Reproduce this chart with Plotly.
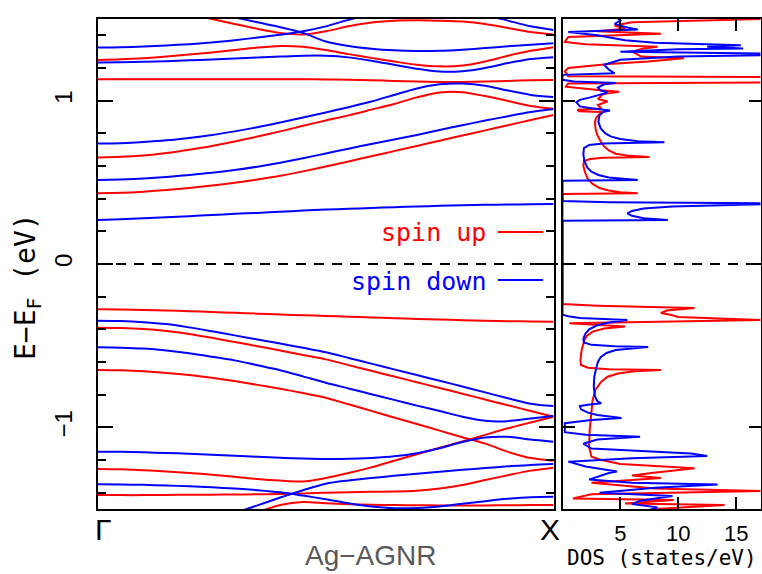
import plotly.graph_objects as go

# ---------------- band structure data (k from Gamma=0 to X=1) ----------------
K = [0, .05, .1, .15, .2, .25, .3, .35, .4, .45, .5, .55, .6, .65, .7, .75, .8, .85, .9, .95, 1.0]

# spin-up (red) bands
up_c1 = [.433, .436, .443, .453, .465, .480, .497, .517, .540, .567, .597, .628, .660, .691, .723, .755, .787, .818, .850, .881, .912]
up_c2 = [.652, .656, .665, .680, .700, .723, .750, .780, .812, .846, .879, .910, .945, .980, 1.020, 1.050, 1.052, 1.028, .998, .968, .950]
up_c3 = [1.131, 1.131, 1.131, 1.131, 1.131, 1.131, 1.131, 1.131, 1.131, 1.131, 1.130, 1.128, 1.125, 1.121, 1.117, 1.114, 1.114, 1.117, 1.121, 1.125, 1.127]
up_c4 = [1.249, 1.253, 1.260, 1.270, 1.282, 1.295, 1.310, 1.325, 1.335, 1.330, 1.310, 1.285, 1.262, 1.240, 1.220, 1.210, 1.215, 1.240, 1.275, 1.305, 1.327]
up_c5 = [1.60, 1.59, 1.575, 1.555, 1.53, 1.50, 1.47, 1.44, 1.415, 1.405, 1.425, 1.455, 1.478, 1.49, 1.492, 1.49, 1.485, 1.47, 1.445, 1.42, 1.405]
up_v1 = [-.277, -.278, -.281, -.285, -.289, -.294, -.299, -.304, -.309, -.314, -.318, -.323, -.327, -.332, -.336, -.340, -.344, -.347, -.350, -.352, -.353]
up_v2 = [-.390, -.392, -.398, -.410, -.428, -.452, -.478, -.503, -.530, -.557, -.584, -.619, -.654, -.689, -.724, -.759, -.794, -.830, -.865, -.900, -.935]
up_v3 = [-.649, -.651, -.657, -.667, -.680, -.697, -.717, -.740, -.764, -.790, -.819, -.859, -.899, -.940, -.980, -1.020, -1.061, -1.100, -1.150, -1.188, -1.205]
up_v4 = [-1.255, -1.257, -1.262, -1.270, -1.280, -1.290, -1.302, -1.316, -1.326, -1.332, -1.310, -1.280, -1.245, -1.205, -1.165, -1.125, -1.087, -1.046, -1.006, -.970, -.935]
up_v5 = [-1.415, -1.415, -1.415, -1.414, -1.413, -1.412, -1.411, -1.410, -1.408, -1.405, -1.400, -1.397, -1.395, -1.393, -1.388, -1.375, -1.353, -1.323, -1.293, -1.265, -1.247]
up_v6 = [-1.65, -1.65, -1.645, -1.635, -1.62, -1.60, -1.565, -1.52, -1.475, -1.457, -1.465, -1.471, -1.474, -1.476, -1.477, -1.478, -1.478, -1.478, -1.477, -1.476, -1.476]

# spin-down (blue) bands
dn_c1 = [.270, .274, .280, .286, .293, .300, .307, .313, .320, .327, .333, .338, .343, .348, .352, .356, .359, .362, .364, .366, .367]
dn_c2 = [.515, .518, .523, .532, .545, .558, .575, .596, .620, .647, .677, .706, .735, .762, .790, .820, .850, .878, .905, .930, .949]
dn_c3 = [.737, .740, .747, .757, .772, .790, .812, .837, .866, .897, .928, .960, .995, 1.035, 1.075, 1.100, 1.105, 1.092, 1.062, 1.035, 1.022]
dn_c4 = [1.233, 1.235, 1.238, 1.242, 1.247, 1.252, 1.258, 1.264, 1.270, 1.275, 1.275, 1.265, 1.245, 1.220, 1.195, 1.178, 1.180, 1.200, 1.230, 1.255, 1.266]
dn_c5 = [1.325, 1.327, 1.332, 1.338, 1.346, 1.356, 1.370, 1.387, 1.404, 1.425, 1.455, 1.495, 1.53, 1.55, 1.56, 1.56, 1.55, 1.525, 1.49, 1.455, 1.433]
dn_c6 = [1.62, 1.615, 1.60, 1.585, 1.565, 1.54, 1.51, 1.48, 1.45, 1.415, 1.362, 1.335, 1.318, 1.308, 1.304, 1.305, 1.312, 1.322, 1.333, 1.343, 1.351]
dn_v1 = [-.347, -.349, -.356, -.368, -.388, -.412, -.437, -.462, -.487, -.513, -.540, -.575, -.610, -.645, -.680, -.715, -.750, -.786, -.822, -.855, -.870]
dn_v2 = [-.510, -.512, -.518, -.530, -.547, -.568, -.590, -.620, -.650, -.688, -.727, -.762, -.797, -.832, -.867, -.900, -.935, -.960, -.962, -.946, -.930]
dn_v3 = [-1.149, -1.150, -1.153, -1.157, -1.162, -1.168, -1.174, -1.180, -1.186, -1.191, -1.194, -1.193, -1.187, -1.177, -1.158, -1.128, -1.090, -1.062, -1.058, -1.075, -1.088]
dn_v4 = [-1.349, -1.350, -1.352, -1.356, -1.361, -1.367, -1.375, -1.385, -1.398, -1.418, -1.440, -1.465, -1.485, -1.495, -1.494, -1.484, -1.468, -1.452, -1.438, -1.428, -1.425]
dn_v5 = [-1.62, -1.62, -1.615, -1.605, -1.59, -1.565, -1.525, -1.478, -1.43, -1.385, -1.345, -1.325, -1.310, -1.297, -1.284, -1.272, -1.260, -1.249, -1.239, -1.230, -1.225]

up_bands = [up_c1, up_c2, up_c3, up_c4, up_c5, up_v1, up_v2, up_v3, up_v4, up_v5, up_v6]
dn_bands = [dn_c1, dn_c2, dn_c3, dn_c4, dn_c5, dn_c6, dn_v1, dn_v2, dn_v3, dn_v4, dn_v5]

# ---------------- DOS data (states/eV), listed as (energy, DOS) pairs ----------------
dos_up_E = [-1.52, -1.50, -1.476, -1.466, -1.445, -1.435, -1.41, -1.39, -1.375, -1.34, -1.31, -1.295, -1.28, -1.25,
            -1.225, -1.20, -1.18, -1.12, -1.016, -0.91, -0.833, -0.77, -0.72, -0.69, -0.67, -0.657, -0.649, -0.645,
            -0.635, -0.618, -0.59, -0.527, -0.465, -0.44, -0.414, -0.395, -0.383, -0.363, -0.35, -0.343, -0.325,
            -0.312, -0.30, -0.285, -0.27, -0.255, -0.245,
            0.428, 0.433, 0.44, 0.45, 0.465, 0.49, 0.52, 0.56, 0.60, 0.63, 0.643, 0.65, 0.655, 0.662, 0.675, 0.695,
            0.72, 0.75, 0.79, 0.83, 0.87, 0.90, 0.92, 0.93, 0.935, 0.945, 0.952, 0.974, 0.995, 1.01, 1.04, 1.055,
            1.066, 1.085, 1.105, 1.112, 1.145, 1.15, 1.18, 1.20, 1.225, 1.24, 1.26, 1.27, 1.30, 1.32, 1.33, 1.345,
            1.36, 1.39, 1.41, 1.425, 1.44, 1.46, 1.48, 1.49, 1.50, 1.52]
dos_up_val = [6, 8, 14, 5.4, 9.6, 0.9, 2.5, 17.5, 8, 2.5, 8.5, 6, 7.7, 11.4,
              5, 3.35, 2.5, 2.3, 2.35, 2.5, 2.6, 2.85, 3.35, 3.9, 4.8, 6.2, 8.5, 4,
              2.2, 1.6, 1.55, 1.65, 1.9, 2.1, 2.6, 3.6, 5.4, 0.6, 10, 17.5, 10,
              9.4, 8.5, 9, 11.4, 3, 0,
              0, 6.5, 5.0, 4.0, 3.2, 2.6, 2.2, 1.95, 1.8, 1.85, 2.4, 3.5, 7.5, 5.8, 4.6, 4.0,
              3.6, 3.3, 3.0, 2.85, 2.8, 2.95, 3.2, 3.4, 1.4, 1.3, 3.35, 3.06, 3.9, 3.06, 3.5, 4.9,
              3.06, 0.3, 0.5, 17.5, 17.5, 0.5, 0.2, 0.5, 4, 7.4, 10.5, 6.8, 6, 7, 8.2, 2,
              0.2, 0.5, 8.5, 3, 5.4, 4.5, 6, 13, 17.5, 17.5]

dos_dn_E = [-1.52, -1.49, -1.47, -1.45, -1.42, -1.40, -1.37, -1.35, -1.34, -1.32, -1.28, -1.27, -1.24, -1.21,
            -1.19, -1.175, -1.16, -1.149, -1.13, -1.10, -1.075, -1.057, -1.045, -1.03, -0.975, -0.955, -0.943,
            -0.925, -0.91, -0.89, -0.87, -0.862, -0.853, -0.84, -0.81, -0.75, -0.69, -0.64, -0.60, -0.57, -0.545,
            -0.527, -0.515, -0.508, -0.503, -0.495, -0.48, -0.46, -0.43, -0.40, -0.375, -0.36, -0.35, -0.343,
            -0.33, -0.32, -0.31,
            0.265, 0.270, 0.28, 0.295, 0.31, 0.325, 0.34, 0.352, 0.36, 0.366, 0.372, 0.378, 0.385,
            0.51, 0.515, 0.522, 0.53, 0.545, 0.565, 0.59, 0.63, 0.67, 0.71, 0.728, 0.738, 0.745, 0.752, 0.765,
            0.78, 0.80, 0.83, 0.87, 0.91, 0.93, 0.94, 0.95, 0.965, 0.99, 1.005, 1.02, 1.035, 1.05, 1.062, 1.08,
            1.10, 1.108, 1.118, 1.128, 1.158, 1.168, 1.19, 1.22, 1.25, 1.27, 1.278, 1.288, 1.30, 1.315, 1.32,
            1.33, 1.34, 1.355, 1.37, 1.40, 1.42, 1.435, 1.45, 1.47, 1.49, 1.52]
dos_dn_val = [7, 8.2, 6, 6.7, 9.5, 3.2, 8, 13.4, 6, 2.3, 4, 4.7, 2, 0.5,
              6, 12.5, 11.1, 8, 2.5, 1.8, 3, 6.7, 2, 0.2, 0.2, 2.5, 5.1,
              3.0, 2.2, 1.6, 1.5, 2.2, 3.35, 3.0, 2.8, 2.7, 2.75, 2.9, 3.06, 3.3, 3.8,
              4.6, 6.2, 7.4, 4.5, 2.5, 1.85, 1.8, 1.95, 2.3, 3.0, 3.9, 4.8, 5.6,
              1.5, 0.5, 0,
              0, 9.1, 7.0, 6.0, 5.6, 6.0, 7.0, 9.5, 13, 17.5, 17.5, 4, 0,
              0, 6.5, 5.2, 4.0, 3.1, 2.5, 2.15, 1.9, 1.8, 1.85, 2.3, 3.5, 8.8, 6.5, 5.0,
              4.2, 3.7, 3.3, 3.1, 3.2, 3.5, 4.1, 2.8, 1.5, 1.2, 1.5, 2.4, 3.06, 3.9, 3.3, 3.06,
              3.6, 4.6, 1, 0, 0, 4.5, 4, 3.6, 5, 10, 17.5, 17.5, 5, 10, 15.6,
              12.5, 15.4, 8, 5.4, 3, 0.5, 6.5, 5.5, 4.5, 5, 4.5]

RED = "#ff0000"
BLUE = "#0000ff"

fig = go.Figure()
for b in up_bands:
    fig.add_trace(go.Scatter(x=K, y=b, mode="lines", line=dict(color=RED, width=2, shape="spline", smoothing=0.8),
                             xaxis="x", yaxis="y", showlegend=False, hoverinfo="skip"))
for b in dn_bands:
    fig.add_trace(go.Scatter(x=K, y=b, mode="lines", line=dict(color=BLUE, width=2, shape="spline", smoothing=0.8),
                             xaxis="x", yaxis="y", showlegend=False, hoverinfo="skip"))

fig.add_trace(go.Scatter(x=dos_up_val, y=dos_up_E, mode="lines", line=dict(color=RED, width=2),
                         xaxis="x2", yaxis="y2", showlegend=False, hoverinfo="skip"))
fig.add_trace(go.Scatter(x=dos_dn_val, y=dos_dn_E, mode="lines", line=dict(color=BLUE, width=2),
                         xaxis="x2", yaxis="y2", showlegend=False, hoverinfo="skip"))

W, H = 762, 574
def px(x):
    return x / W
def py(y):
    return 1 - y / H

x1_dom = [px(98), px(553.5)]
x2_dom = [px(562.5), px(760.5)]
y_dom = [py(509), py(19)]

fig.update_layout(
    width=W, height=H, margin=dict(l=0, r=0, t=0, b=0),
    paper_bgcolor="white", plot_bgcolor="white",
    font=dict(family="Liberation Sans", color="black"),
    xaxis=dict(domain=x1_dom, range=[0, 1], showgrid=False, zeroline=False, showline=True, linecolor="black",
               linewidth=2, mirror=True, showticklabels=False, ticks=""),
    yaxis=dict(domain=y_dom, range=[-1.5, 1.5], showgrid=False, zeroline=False, showline=True, linecolor="black",
               linewidth=2, mirror="ticks", ticks="inside", tickmode="linear", tick0=0, dtick=1, ticklen=15,
               tickwidth=2, tickcolor="black", tickangle=-90, tickfont=dict(size=24, family="Liberation Sans"),
               ticklabelstandoff=14,
               minor=dict(ticks="inside", tickmode="linear", tick0=0, dtick=0.2, ticklen=8, tickwidth=2,
                          tickcolor="black", showgrid=False)),
    xaxis2=dict(domain=x2_dom, range=[0, 17.1], anchor="y2", showgrid=False, zeroline=False, showline=True,
                linecolor="black", linewidth=2, mirror="ticks", ticks="inside", tickmode="array",
                tickvals=[5, 10, 15], ticktext=["5", "10", "15"], ticklen=12, tickwidth=2, tickcolor="black",
                tickfont=dict(size=22, family="Liberation Sans"), ticklabelstandoff=4),
    yaxis2=dict(domain=y_dom, range=[-1.5, 1.5], anchor="x2", showgrid=False, zeroline=False, showline=True,
                linecolor="black", linewidth=2, mirror="ticks", ticks="inside", tickmode="array",
                tickvals=[-1, 0, 1], ticklen=12, tickwidth=2, tickcolor="black", showticklabels=False),
)

# dashed Fermi level across both panels
fig.add_shape(type="line", xref="paper", yref="y", x0=x1_dom[0], x1=x2_dom[1], y0=0, y1=0,
              line=dict(color="black", width=2, dash="10px,8px"))

# legend-like annotations
fig.add_shape(type="line", xref="paper", yref="paper", x0=px(498), x1=px(543), y0=py(232), y1=py(232),
              line=dict(color=RED, width=2))
fig.add_shape(type="line", xref="paper", yref="paper", x0=px(498), x1=px(543), y0=py(280), y1=py(280),
              line=dict(color=BLUE, width=2))
mono = "DejaVu Sans Mono"

def note(text, x, y, size, family, color="black", xanchor="center", angle=0):
    fig.add_annotation(text=text, x=px(x), y=py(y), xref="paper", yref="paper", xanchor=xanchor,
                       yanchor="middle", showarrow=False, textangle=angle,
                       font=dict(size=size, color=color, family=family))

note("spin up", 488, 232, 25, mono, RED, xanchor="right")
note("spin down", 488, 281, 25, mono, BLUE, xanchor="right")
note("Γ", 103, 529, 30, "Liberation Sans")
note("X", 550, 529, 30, "Liberation Sans")
note("Ag−AGNR", 371, 555, 28, "Liberation Sans", "#5a5a5a")
note("DOS (states/eV)", 662, 558, 21, mono)
note("E−E<sub>F</sub> (eV)", 27, 287, 28, mono, angle=-90)

fig.write_html("out.html")
